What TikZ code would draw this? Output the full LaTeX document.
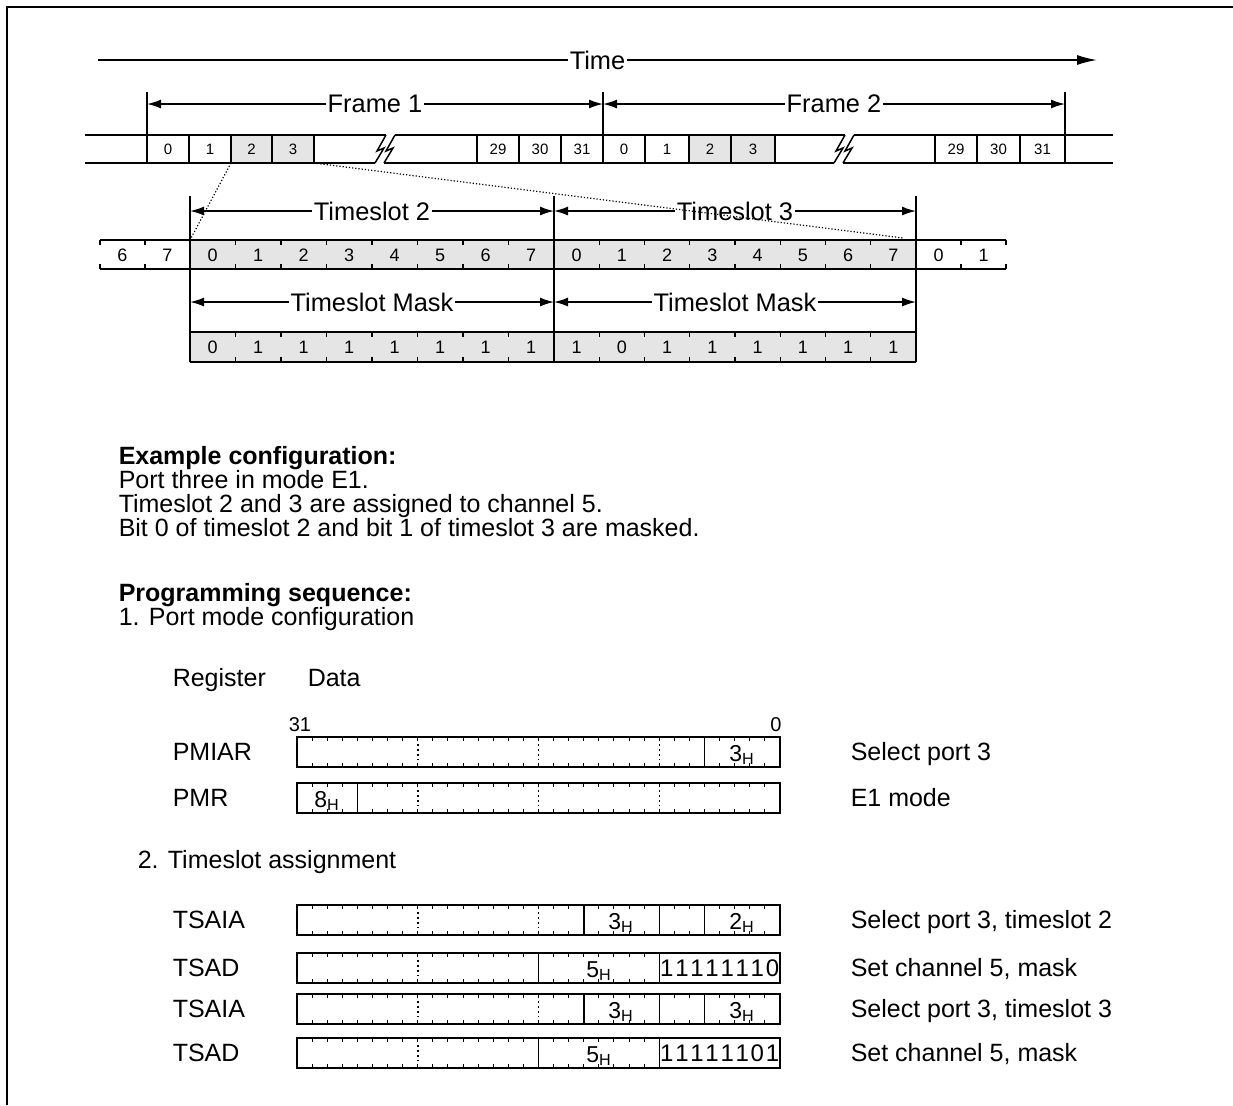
\documentclass[tikz,border=0pt]{standalone}
\usepackage{fontspec}
\setmainfont{Liberation Sans}
\usetikzlibrary{arrows.meta}

\tikzset{
  txt/.style={font=\fontsize{12.5}{14}\selectfont, inner sep=0pt, anchor=base west},
  hd/.style={txt, font=\fontsize{12.5}{14}\selectfont\bfseries},
  lab/.style={font=\fontsize{12.7}{14}\selectfont, fill=white, inner sep=1pt},
  cellnum/.style={font=\fontsize{7.5}{8}\selectfont, inner sep=0pt},
  regval/.style={font=\fontsize{11.5}{12}\selectfont, inner sep=0pt, anchor=base},
  regdig/.style={font=\fontsize{12}{12}\selectfont, inner sep=0pt},
  bitnum/.style={font=\fontsize{9}{10}\selectfont, inner sep=0pt},
  dimarrow/.style={{Latex[length=7pt,width=4.5pt]}-{Latex[length=7pt,width=4.5pt]}},
  slotfill/.style={fill=gray!20},
  zoomline/.style={densely dotted, line width=0.6pt},
  bytesep/.style={dash pattern=on 1pt off 1.5pt},
}

% one 32 bit register box, #1 = top, #2 = number of bit ticks
\newcommand{\regbox}[2]{%
  \draw (297,#1) rectangle (780,#1+30);
  \foreach \k in {1,...,#2}
    \draw[line width=0.5pt] (297+15.09375*\k,#1) -- ++(0,4) (297+15.09375*\k,#1+30) -- ++(0,-4);
}
\newcommand{\brkmark}[1]{%
  \draw (#1+3,135) -- (#1-6,151) -- (#1+1,148) -- (#1-8,163);
  \draw (#1+12,135) -- (#1+3,151) -- (#1+10,148) -- (#1+1,163);
}

\begin{document}
\begin{tikzpicture}[x=0.5pt,y=-0.5pt,line width=0.75pt]
\useasboundingbox (0,0) rectangle (1233,1105);
\draw[line width=1pt] (7,1105) -- (7,7) -- (1233,7);

% time axis
\coordinate (tstart) at (98,60);
\coordinate (tend) at (1097,60);
\draw[-{Latex[length=10pt,width=5pt]}] (tstart) -- (tend) node[lab,midway] (time) {Time};

% frames
\coordinate (fa) at (147,104);
\coordinate (fb) at (603,104);
\coordinate (fc) at (1065,104);
\draw[dimarrow] (fa) -- (fb) node[lab,midway] (frame1) {Frame 1};
\draw[dimarrow] (fb) -- (fc) node[lab,midway] (frame2) {Frame 2};

\fill[slotfill] (231,135) rectangle (314,163);
\fill[slotfill] (689,135) rectangle (775,163);
\draw (85,135) -- (386,135) (395,135) -- (845,135) (854,135) -- (1113,135);
\draw (85,163) -- (375,163) (384,163) -- (834,163) (843,163) -- (1113,163);
\brkmark{383}
\brkmark{842}
\foreach \x in {189,231,272,314,477,519,561,645,689,731,775,935,977,1020}
  \draw (\x,135) -- (\x,163);
\foreach \x in {147,603,1065}
  \draw (\x,92) -- (\x,163);
\foreach \x/\t [count=\i] in {168/0,210/1,251.5/2,293/3,498/29,540/30,582/31,
    624/0,667/1,710/2,753/3,956/29,998.5/30,1042.5/31}
  \node[cellnum] (slot\i) at (\x,149) {\t};

% timeslots
\coordinate (ta) at (190,211);
\coordinate (tb) at (554,211);
\coordinate (tc) at (916,211);
\fill[slotfill] (190,240) rectangle (916,269);
\fill[slotfill] (190,332) rectangle (916,362);
\draw (100,240) -- (1006,240) (100,269) -- (1006,269);
\draw (190,332) -- (916,332) (190,362) -- (916,362);
\foreach \x in {190,554,916}
  \draw (\x,196) -- (\x,362);
\draw[dimarrow] (ta) -- (tb) node[lab,midway] (ts2) {Timeslot 2};
\draw[dimarrow] (tb) -- (tc) node[lab,midway] (ts3) {Timeslot 3};
\draw[dimarrow] (190,302) -- (554,302) node[lab,midway] (mask1) {Timeslot Mask};
\draw[dimarrow] (554,302) -- (916,302) node[lab,midway] (mask2) {Timeslot Mask};

\foreach \x in {100,145,961,1006}
  \draw[line width=0.6pt] (\x,240) -- ++(0,5) (\x,269) -- ++(0,-5);
\foreach \k in {1,...,7}{
  \draw[line width=0.6pt] (190+45.5*\k,240) -- ++(0,5) (190+45.5*\k,269) -- ++(0,-5);
  \draw[line width=0.6pt] (554+45.25*\k,240) -- ++(0,5) (554+45.25*\k,269) -- ++(0,-5);
  \draw[line width=0.6pt] (190+45.5*\k,332) -- ++(0,5) (190+45.5*\k,362) -- ++(0,-5);
  \draw[line width=0.6pt] (554+45.25*\k,332) -- ++(0,5) (554+45.25*\k,362) -- ++(0,-5);
}
\node[bitnum] (bp6) at (122.5,255) {6};
\node[bitnum] (bp7) at (167.5,255) {7};
\foreach \t in {0,...,7}{
  \node[bitnum] (ba\t) at (212.75+45.5*\t,255) {\t};
  \node[bitnum] (bb\t) at (576.6+45.25*\t,255) {\t};
}
\node[bitnum] (bn0) at (938.5,255) {0};
\node[bitnum] (bn1) at (983.5,255) {1};
\foreach \m [count=\i from 0] in {0,1,1,1,1,1,1,1}
  \node[bitnum] (ma\i) at (212.75+45.5*\i,347) {\m};
\foreach \m [count=\i from 0] in {1,0,1,1,1,1,1,1}
  \node[bitnum] (mb\i) at (576.6+45.25*\i,347) {\m};

% zoom lines
\coordinate (z1) at (231,163);
\coordinate (z2) at (314,163);
\coordinate (z3) at (190,240);
\coordinate (z4) at (903,238);
\draw[zoomline] (z1) -- (z3);
\draw[zoomline] (z2) -- (z4);

% text
\node[hd] (exhd) at (118,464) {Example configuration:};
\node[txt] (ex1) at (118,488) {Port three in mode E1.};
\node[txt] (ex2) at (118,512) {Timeslot 2 and 3 are assigned to channel 5.};
\node[txt] (ex3) at (118,536) {Bit 0 of timeslot 2 and bit 1 of timeslot 3 are masked.};
\node[hd] (prhd) at (118,601) {Programming sequence:};
\node[txt] (pr1) at (118,625) {1. Port mode configuration};
\node[txt] (reg) at (172,686) {Register};
\node[txt] (dat) at (307,686) {Data};
\node[font=\fontsize{10}{11}\selectfont, inner sep=0pt] (msb) at (300,725) {31};
\node[font=\fontsize{10}{11}\selectfont, inner sep=0pt] (lsb) at (776,725) {0};
\node[txt] (pr2) at (137,868) {2. Timeslot assignment};

% registers
\regbox{737}{31}
\foreach \x in {417.75,538.5,659.25}
  \draw[bytesep] (\x,744) -- (\x,760);
\draw (704.5,737) -- (704.5,767);
\node[regval] (v1) at (742,761) {3\textsubscript{H}};

\regbox{783}{31}
\foreach \x in {417.75,538.5,659.25}
  \draw[bytesep] (\x,790) -- (\x,806);
\draw (357.4,783) -- (357.4,813);
\node[regval] (v2) at (327,807) {8\textsubscript{H}};

\regbox{905}{31}
\foreach \x in {417.75,538.5}
  \draw[bytesep] (\x,912) -- (\x,928);
\draw (583.9,905) -- (583.9,935) (659.25,905) -- (659.25,935) (704.5,905) -- (704.5,935);
\node[regval] (v3) at (621,929) {3\textsubscript{H}};
\node[regval] (v4) at (742,929) {2\textsubscript{H}};

\regbox{953}{23}
\draw[bytesep] (417.75,960) -- (417.75,976);
\draw (538.5,953) -- (538.5,983) (659.25,953) -- (659.25,983);
\node[regval] (v5) at (599,977) {5\textsubscript{H}};
\foreach \d [count=\i] in {1,1,1,1,1,1,1,0}
  \node[regdig] (da\i) at (659.25+15.09375*\i-7.5,968) {\d};

\regbox{994}{31}
\foreach \x in {417.75,538.5}
  \draw[bytesep] (\x,1001) -- (\x,1017);
\draw (583.9,994) -- (583.9,1024) (659.25,994) -- (659.25,1024) (704.5,994) -- (704.5,1024);
\node[regval] (v6) at (621,1018) {3\textsubscript{H}};
\node[regval] (v7) at (742,1018) {3\textsubscript{H}};

\regbox{1038}{23}
\draw[bytesep] (417.75,1045) -- (417.75,1061);
\draw (538.5,1038) -- (538.5,1068) (659.25,1038) -- (659.25,1068);
\node[regval] (v8) at (599,1062) {5\textsubscript{H}};
\foreach \d [count=\i] in {1,1,1,1,1,1,0,1}
  \node[regdig] (db\i) at (659.25+15.09375*\i-7.5,1053) {\d};

\node[txt] (rn1) at (172,760) {PMIAR};
\node[txt] (rn2) at (172,806) {PMR};
\node[txt] (rn3) at (172,928) {TSAIA};
\node[txt] (rn4) at (172,976) {TSAD};
\node[txt] (rn5) at (172,1017) {TSAIA};
\node[txt] (rn6) at (172,1061) {TSAD};

\node[txt] (cm1) at (850,760) {Select port 3};
\node[txt] (cm2) at (850,806) {E1 mode};
\node[txt] (cm3) at (850,928) {Select port 3, timeslot 2};
\node[txt] (cm4) at (850,976) {Set channel 5, mask};
\node[txt] (cm5) at (850,1017) {Select port 3, timeslot 3};
\node[txt] (cm6) at (850,1061) {Set channel 5, mask};
\end{tikzpicture}
\end{document}
